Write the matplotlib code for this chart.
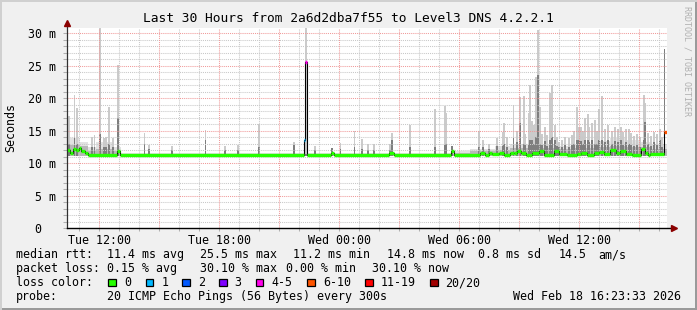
import matplotlib
matplotlib.use("Agg")
import matplotlib.pyplot as plt
from matplotlib.patches import Rectangle
from matplotlib.lines import Line2D

W, H, DPI = 697, 310, 100

# ---------------- data ----------------
# time axis in hours since Tue 00:00
t_start = 10.3925
t_end = 40.3925
tick_hours = [12, 18, 24, 30, 36]
tick_labels = ["Tue 12:00", "Tue 18:00", "Wed 00:00", "Wed 06:00", "Wed 12:00"]
ytick_ms = [0, 5, 10, 15, 20, 25, 30]
ytick_labels = ["0  ", "5 m", "10 m", "15 m", "20 m", "25 m", "30 m"]
y_max = 30.8

# median rtt (ms) as steps: value holds from each hour until the next one
median_hours = [10.39, 10.55, 10.69, 10.84, 10.99, 11.09, 11.29, 11.44, 12.89, 13.04,
                22.24, 22.31, 22.41, 23.59, 23.74, 26.49, 26.74, 29.59, 29.74,
                31.06, 31.31, 31.48, 31.64, 31.98, 32.23, 32.56, 32.73, 32.89, 33.11,
                33.34, 33.64, 34.01, 34.23, 34.73, 35.01, 35.39, 35.89, 36.11, 36.39,
                36.73, 36.98, 37.23, 37.56, 37.84, 38.06, 38.36, 38.64, 39.11, 39.31,
                39.44, 39.56, 40.23]
median_ms = [12.0, 11.6, 12.2, 12.0, 12.3, 11.8, 11.5, 11.3, 11.8, 11.3,
             13.6, 25.5, 11.3, 11.6, 11.3, 11.5, 11.3, 11.8, 11.3,
             11.6, 11.3, 11.6, 11.4, 11.5, 11.3, 11.5, 11.6, 11.8, 11.6,
             11.3, 11.6, 11.8, 11.3, 11.8, 11.4, 11.3, 11.4, 11.5, 11.3,
             11.5, 11.7, 11.4, 12.0, 11.6, 11.9, 11.4, 11.3, 12.1, 11.6,
             11.3, 11.4, 14.8]
# loss category index per median step (0 = no loss)
median_loss = [0] * 10 + [1, 4] + [0] * 39 + [5]

# broad smoke band (ms), steps
smoke_hours = [10.39, 11.04, 11.44, 11.84, 12.64, 13.09, 29.79, 30.54, 31.79, 32.54,
               35.04, 35.79, 37.04, 37.54, 38.29, 39.04, 39.54]
smoke_top = [13.8, 13.2, 12.4, 13.2, 12.4, 11.5, 11.9, 12.2, 12.6, 13.0,
             12.7, 13.0, 13.4, 13.8, 13.5, 13.2, 12.9]
smoke_mid = [12.8, 12.6, 11.9, 12.2, 11.9, 11.4, 11.6, 11.8, 12.0, 12.3,
             12.1, 12.3, 12.5, 12.6, 12.5, 12.4, 12.2]
smoke_low = 11.1

# individual smoke spikes: time, outer top (ms), inner top (ms)
spike_hours = [10.42, 10.49, 10.77, 10.89, 11.64, 11.77, 12.06, 12.24, 12.34, 12.48,
               12.69, 12.96, 14.27, 14.48, 15.64, 17.32, 18.29, 18.94, 20.01, 21.76,
               22.36, 22.81, 23.64, 24.07, 24.77, 25.14, 25.44, 25.73, 26.54, 26.64,
               27.56, 28.81, 29.28, 29.34, 29.64, 30.98, 32.17, 32.24, 32.72, 33.06,
               33.23, 33.48, 33.56, 33.73, 33.84, 33.96, 34.06, 34.39, 34.56, 34.64,
               34.81, 34.98, 35.64, 35.89, 35.98, 36.29, 36.44, 36.64, 36.81, 36.98,
               37.14, 38.49, 39.23, 39.31, 40.06, 40.27,
               31.20, 31.50, 31.90, 32.40, 32.90, 33.30, 33.65, 34.15, 34.30, 34.90,
               35.15, 35.30, 35.50, 35.75, 36.10, 36.20, 36.50, 36.90, 37.30, 37.45,
               37.65, 37.80, 37.95, 38.10, 38.20, 38.35, 38.60, 38.75, 38.90, 39.05,
               39.45, 39.60, 39.75, 39.90, 40.15]
spike_top = [22.6, 17.2, 20.5, 18.5, 14.0, 14.3, 30.8, 13.8, 14.0, 18.7,
             13.8, 25.1, 14.7, 12.8, 12.6, 15.1, 12.6, 12.8, 16.0, 13.3,
             30.8, 12.6, 12.3, 13.1, 14.9, 13.7, 12.9, 13.0, 13.0, 14.6,
             15.9, 18.3, 18.8, 17.7, 12.6, 14.9, 14.8, 16.2, 19.0, 20.1,
             20.4, 17.7, 22.0, 15.8, 23.3, 30.5, 18.7, 14.3, 20.8, 22.0,
             15.8, 13.2, 14.3, 18.7, 15.5, 16.9, 17.6, 16.2, 16.7, 18.4,
             20.3, 15.3, 20.5, 19.2, 15.3, 27.5,
             13.5, 13.0, 13.8, 14.0, 15.0, 14.5, 16.5, 14.5, 15.5, 14.0,
             13.5, 14.0, 13.8, 15.0, 15.5, 15.0, 15.5, 15.0, 15.2, 15.8,
             15.0, 15.5, 15.3, 15.6, 14.8, 15.2, 14.6, 14.2, 14.5, 14.0,
             14.6, 14.2, 14.8, 14.4, 14.0]
spike_mid = [13.5, 13.0, 14.0, 13.0, 12.4, 12.4, 14.5, 12.4, 12.4, 13.0,
             12.4, 17.0, 13.0, 12.2, 12.0, 13.5, 12.0, 12.0, 12.5, 12.8,
             11.4, 12.0, 12.3, 12.2, 12.5, 12.2, 12.0, 12.0, 12.0, 13.5,
             12.5, 12.5, 12.8, 13.0, 12.6, 12.4, 12.6, 13.0, 13.8, 16.2,
             13.0, 13.0, 13.5, 13.0, 14.0, 23.6, 13.0, 12.6, 13.5, 14.0,
             13.5, 12.4, 12.8, 13.5, 13.5, 13.5, 13.5, 13.5, 13.0, 13.5,
             13.5, 13.0, 13.5, 16.3, 13.5, 27.5,
             12.4, 12.2, 12.6, 12.5, 13.2, 12.8, 13.5, 12.8, 13.4, 12.6,
             12.4, 12.8, 12.5, 13.0, 13.4, 13.0, 13.3, 13.0, 13.2, 13.6,
             13.0, 13.4, 13.2, 13.5, 12.8, 13.2, 12.8, 12.6, 12.8, 12.5,
             13.0, 12.6, 13.2, 12.8, 12.5]

loss_labels = ["0", "1", "2", "3", "4-5", "6-10", "11-19", "20/20"]
loss_colors = ["#26ff00", "#00b8ff", "#0059ff", "#7e00ff", "#ff00ea", "#ff5500", "#ff0000", "#a10000"]

rtt_stats = [11.4, 25.5, 11.2, 14.8, 0.8, 14.5]
loss_stats = [0.15, 30.10, 0.00, 30.10]
title = "Last 30 Hours from 2a6d2dba7f55 to Level3 DNS 4.2.2.1"
probe_text = "20 ICMP Echo Pings (56 Bytes) every 300s"
stamp_text = "Wed Feb 18 16:23:33 2026"

# ---------------- drawing ----------------
MONO = "DejaVu Sans Mono"
plt.rcParams["font.family"] = MONO

fig = plt.figure(figsize=(W / DPI, H / DPI), dpi=DPI, facecolor="#f0f0f0")

def fx(x):
    return x / W

def fy(y):
    return 1 - y / H

L, R, T, B = 67, 667, 28, 228
ax = fig.add_axes([fx(L), fy(B), (R - L) / W, (B - T) / H])
ax.set_facecolor("white")
ax.set_xlim(t_start, t_end)
ax.set_ylim(0, y_max)

# smoke band
sh = smoke_hours + [t_end]
ax.fill_between(sh, smoke_low, smoke_top + [smoke_top[-1]], step="post",
                color="#e2e2e2", lw=0, zorder=1)
ax.fill_between(sh, smoke_low, smoke_mid + [smoke_mid[-1]], step="post",
                color="#b8b8b8", lw=0, zorder=1.1)

# spikes
step_w = 0.09
ax.bar(spike_hours, [t - smoke_low for t in spike_top], bottom=smoke_low, width=step_w,
       color="#cbcbcb", lw=0, zorder=1.2)
ax.bar(spike_hours, [m - smoke_low for m in spike_mid], bottom=smoke_low, width=step_w,
       color="#7e7e7e", lw=0, zorder=1.3)

# grid (drawn over smoke)
minor_x = [h for h in range(11, 41) if h % 3 != 0]
major_x = [h for h in range(12, 41, 3)]
minor_y = [v for v in range(1, 31) if v % 5 != 0]
major_y = [v for v in range(5, 31, 5)]
dot = (0, (1, 1))
ax.vlines(minor_x, 0, y_max, colors="#c8c8c8", lw=0.75, linestyles=dot, zorder=2)
ax.hlines(minor_y, t_start, t_end, colors="#c8c8c8", lw=0.75, linestyles=dot, zorder=2)
ax.vlines(major_x, 0, y_max, colors="#f09a9a", lw=0.75, linestyles=dot, zorder=2.1)
ax.hlines(major_y, t_start, t_end, colors="#f09a9a", lw=0.75, linestyles=dot, zorder=2.1)

# median line
mh = median_hours + [t_end]
ax.step(mh, median_ms + [median_ms[-1]], where="post", color="black", lw=0.8, zorder=3)
ax.hlines(median_ms, median_hours, mh[1:], colors=[loss_colors[c] for c in median_loss],
          lw=2.4, zorder=3.1)

# axes / ticks
for s in ["top", "right", "left", "bottom"]:
    ax.spines[s].set_visible(False)
ax.set_xticks(tick_hours)
ax.set_xticklabels(tick_labels, fontsize=8.4)
ax.set_xticks(range(11, 41), minor=True)
ax.set_yticks(ytick_ms)
ax.set_yticklabels(ytick_labels, fontsize=8.4)
ax.set_yticks(range(0, 31), minor=True)
ax.tick_params(axis="x", which="both", direction="out", length=2.5, width=0.75,
               color="#b0b0b0", pad=2)
ax.tick_params(axis="y", which="both", direction="out", length=3, width=0.75,
               color="#b0b0b0", pad=5)

# axis lines with arrows
ax.add_line(Line2D([0, 0], [0, 1.02], transform=ax.transAxes, color="#303030",
                   lw=0.9, clip_on=False, zorder=4))
ax.add_line(Line2D([0, 1.01], [0, 0], transform=ax.transAxes, color="black",
                   lw=1.0, clip_on=False, zorder=4))
ax.plot([0], [1.025], marker="^", ms=4.5, color="#8b0000", transform=ax.transAxes,
        clip_on=False, zorder=5, mec="#8b0000")
ax.plot([1.012], [0], marker=">", ms=4.5, color="#8b0000", transform=ax.transAxes,
        clip_on=False, zorder=5, mec="#8b0000")

# titles
fig.text(fx(348), fy(19), title, ha="center", va="center", fontsize=9.3, family=MONO)
fig.text(fx(11), fy(128), "Seconds", rotation=90, ha="center", va="center",
         fontsize=8.4, family=MONO)
fig.text(fx(687), fy(6), "RRDTOOL / TOBI OETIKER", rotation=270, ha="center", va="top",
         fontsize=6, color="#b0b0b0", family=MONO)

# legend
fs = 8.4
def t(x, y, s):
    fig.text(fx(x), fy(y), s, ha="left", va="center", fontsize=fs, family=MONO)

y1, y2, y3, y4 = 254.5, 268.5, 282.5, 296.5
t(16, y1, "median rtt:")
t(107.3, y1, f"{rtt_stats[0]:.1f} ms avg")
t(200, y1, f"{rtt_stats[1]:.1f} ms max")
t(293.3, y1, f"{rtt_stats[2]:.1f} ms min")
t(386.7, y1, f"{rtt_stats[3]:.1f} ms now")
t(478.3, y1, f"{rtt_stats[4]:.1f} ms sd")
t(558.3, y1, f"{rtt_stats[5]:.1f}")
t(598.3, y1, "am/s")

t(16, y2, "packet loss:")
t(107.3, y2, f"{loss_stats[0]:.2f} % avg")
t(200, y2, f"{loss_stats[1]:.2f} % max")
t(286, y2, f"{loss_stats[2]:.2f} % min")
t(372.3, y2, f"{loss_stats[3]:.2f} % now")

t(16, y3, "loss color:")
box_x = [108.3, 145.7, 182.3, 219, 255.7, 307.3, 365, 430]
for bx, lab, col in zip(box_x, loss_labels, loss_colors):
    fig.patches.append(Rectangle((fx(bx), fy(y3 + 3.8)), 7.5 / W, 7.5 / H,
                                 transform=fig.transFigure, facecolor=col,
                                 edgecolor="black", lw=0.9))
    t(bx + 15.5, y3, lab)

t(16, y4, "probe:")
t(107.3, y4, probe_text)
t(512.7, y4, stamp_text)

# 3D frame
fig.patches.append(Rectangle((0, 0), 1, 2 / H, transform=fig.transFigure,
                             facecolor="#9a9a9a", lw=0))
fig.patches.append(Rectangle((1 - 2 / W, 0), 2 / W, 1, transform=fig.transFigure,
                             facecolor="#9a9a9a", lw=0))
fig.patches.append(Rectangle((0, 1 - 2 / H), 1, 2 / H, transform=fig.transFigure,
                             facecolor="#d0d0d0", lw=0))
fig.patches.append(Rectangle((0, 0), 2 / W, 1, transform=fig.transFigure,
                             facecolor="#d0d0d0", lw=0))

fig.savefig("out.png", dpi=DPI, facecolor=fig.get_facecolor())
